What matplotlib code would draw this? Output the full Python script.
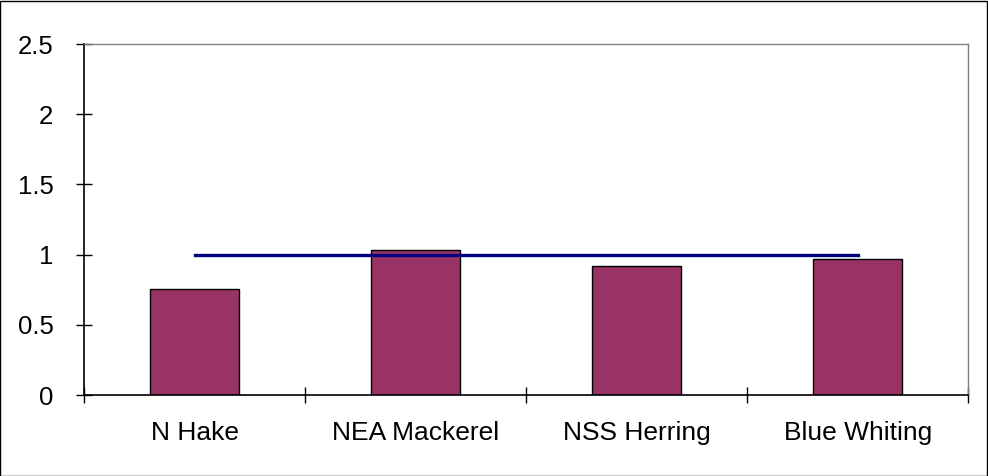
import numpy as np
import matplotlib
matplotlib.use('Agg')
import matplotlib.pyplot as plt
from matplotlib.patches import Rectangle

plt.rcParams['font.family'] = ['Liberation Sans', 'DejaVu Sans']

# stocks and ratio values
stocks = ['N Hake', 'NEA Mackerel', 'NSS Herring', 'Blue Whiting']
ratio = [0.755, 1.03, 0.92, 0.97]
reference = [1.0, 1.0, 1.0, 1.0]
y_ticks = [0, 0.5, 1, 1.5, 2, 2.5]
y_labels = ['0', '0.5', '1', '1.5', '2', '2.5']

fig = plt.figure(figsize=(9.88, 4.76), dpi=100)
ax = fig.add_axes([0.085, 0.170, 0.895, 0.7375])

x = np.arange(len(stocks))
ax.bar(x, ratio, width=0.40, color='#993366', edgecolor='black', linewidth=1.0, zorder=2)
ax.plot(x, reference, color='#000080', linewidth=2.4, zorder=3)

ax.set_xlim(-0.5, len(stocks) - 0.5)
ax.set_ylim(0, 2.5)

# y axis
ax.set_yticks(y_ticks)
ax.set_yticklabels(y_labels, fontsize=18.5)
ax.tick_params(axis='y', direction='inout', length=12, width=1.0, pad=16)

# x axis: ticks on category boundaries, labels centred
ax.set_xticks(np.arange(len(stocks) + 1) - 0.5)
ax.set_xticklabels([])
ax.set_xticks(x, minor=True)
ax.set_xticklabels(stocks, minor=True, fontsize=19)
ax.tick_params(axis='x', which='major', direction='inout', length=12, width=1.0)
ax.tick_params(axis='x', which='minor', length=0, pad=19)

for side in ['top', 'right']:
    ax.spines[side].set_color('#808080')
    ax.spines[side].set_linewidth(1.0)
for side in ['left', 'bottom']:
    ax.spines[side].set_color('black')
    ax.spines[side].set_linewidth(1.2)

# outer frame
fig.patches.append(Rectangle((0.0005, 0.001), 0.998, 0.997, transform=fig.transFigure,
                             fill=False, edgecolor='black', linewidth=1.0))

fig.savefig('out.png', dpi=100)
